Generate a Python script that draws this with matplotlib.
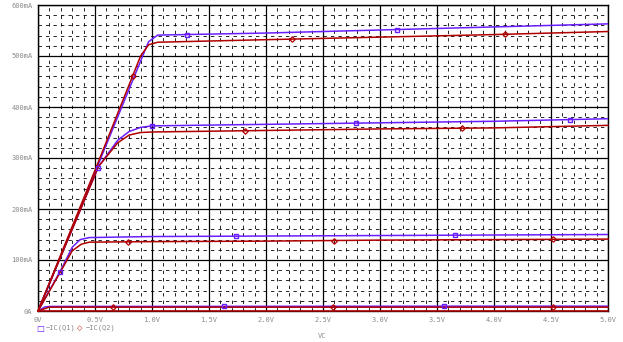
import numpy as np
import matplotlib
matplotlib.use("Agg")
import matplotlib.pyplot as plt
from matplotlib.ticker import MultipleLocator

# sweep of VC (V) vs -IC (mA), one curve per base-current step
q1_curves = [
    ([0, 0.5, 0.9, 0.97, 1.05, 2.0, 3.0, 4.0, 5.0], [0, 272, 490, 528, 541, 545, 551, 557, 563]),
    ([0, 0.53, 0.7, 0.8, 0.9, 1.0, 2.0, 3.0, 4.0, 5.0], [0, 283, 335, 352, 360, 363, 366, 369, 372, 377]),
    ([0, 0.2, 0.3, 0.37, 0.45, 1.0, 2.0, 3.0, 4.0, 5.0], [0, 80, 125, 140, 144, 146, 147, 148, 149, 150]),
    ([0, 0.06, 0.11, 1.0, 3.8, 5.0], [0, 8, 9, 9, 9.5, 9.5]),
]
q2_curves = [
    ([0, 0.5, 0.9, 0.97, 1.05, 2.0, 3.0, 4.0, 5.0], [0, 276, 500, 522, 527, 532, 537, 542, 548]),
    ([0, 0.53, 0.7, 0.8, 0.9, 1.0, 2.0, 3.0, 4.0, 5.0], [0, 283, 330, 345, 350, 351, 354, 357, 359, 364]),
    ([0, 0.2, 0.3, 0.38, 0.45, 1.0, 2.0, 3.0, 4.0, 5.0], [0, 78, 118, 131, 135, 136, 137, 139, 140, 141]),
    ([0, 0.1, 1.0, 5.0], [0, 7.5, 7.5, 7.5]),
    ([0, 5.0], [0, 0]),
]
# where the probe markers sit on each curve (V)
q1_marks = [[1.31, 3.15], [0.526, 1.0, 2.79, 4.67], [0.19, 1.74, 3.66], [1.63, 3.56]]
q2_marks = [[0.83, 2.23, 4.1], [1.82, 3.72], [0.79, 2.6, 4.52], [0.66, 2.59, 4.52], []]

x_ticks = [0, 0.5, 1.0, 1.5, 2.0, 2.5, 3.0, 3.5, 4.0, 4.5, 5.0]
x_labels = ["0V", "0.5V", "1.0V", "1.5V", "2.0V", "2.5V", "3.0V", "3.5V", "4.0V", "4.5V", "5.0V"]
y_ticks = [0, 100, 200, 300, 400, 500, 600]
y_labels = ["0A", "100mA", "200mA", "300mA", "400mA", "500mA", "600mA"]

blue = "#6a1eff"
red = "#b00000"
txt = "#8a8a8a"

fig = plt.figure(figsize=(6.23, 3.42), dpi=100)
ax = fig.add_axes([38 / 623, 1 - 311 / 342, 570 / 623, 306 / 342])

ax.set_xlim(0, 5)
ax.set_ylim(0, 600)
ax.xaxis.set_minor_locator(MultipleLocator(0.1))
ax.yaxis.set_minor_locator(MultipleLocator(20))
ax.set_xticks(x_ticks)
ax.set_yticks(y_ticks)
ax.grid(which="major", color="black", lw=0.9)
ax.grid(which="minor", color="black", lw=0.6, linestyle=(0, (4, 5)))
ax.tick_params(which="both", length=0, pad=4)
ax.set_xticklabels(x_labels, fontsize=5, color=txt, family="DejaVu Sans Mono")
ax.set_yticklabels(y_labels, fontsize=5, color=txt, family="DejaVu Sans Mono")
for s in ax.spines.values():
    s.set_color("black")
    s.set_linewidth(1.0)
ax.set_axisbelow(True)

for (vx, iy), mk in zip(q1_curves, q1_marks):
    ax.plot(vx, iy, color=blue, lw=1.1, zorder=3)
    if mk:
        ax.plot(mk, np.interp(mk, vx, iy), ls="none", marker="s", ms=3.5,
                mfc="none", mec=blue, mew=1.0, zorder=4)
for (vx, iy), mk in zip(q2_curves, q2_marks):
    ax.plot(vx, iy, color=red, lw=1.1, zorder=3, clip_on=False)
    if mk:
        ax.plot(mk, np.interp(mk, vx, iy), ls="none", marker="D", ms=2.8,
                mfc="none", mec=red, mew=0.9, zorder=4)

# legend and axis title written like the probe window
fig.text(40 / 623, 1 - 328 / 342, "\u25a1", color=blue, fontsize=6, va="center", ha="center")
fig.text(46 / 623, 1 - 328 / 342, "\u2212IC(Q1)", color=txt, fontsize=5, va="center", family="DejaVu Sans Mono")
fig.text(80 / 623, 1 - 328 / 342, "\u25c7", color=red, fontsize=5, va="center", ha="center")
fig.text(86 / 623, 1 - 328 / 342, "\u2212IC(Q2)", color=txt, fontsize=5, va="center", family="DejaVu Sans Mono")
fig.text(322 / 623, 1 - 336 / 342, "VC", color=txt, fontsize=5, va="center", ha="center", family="DejaVu Sans Mono")

fig.savefig("out.png", dpi=100, facecolor="white")
